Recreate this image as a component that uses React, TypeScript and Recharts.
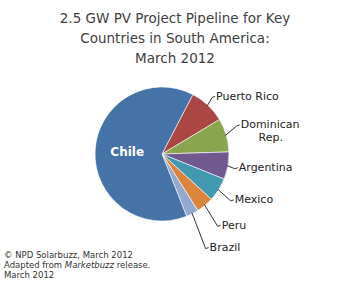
import { Cell, Pie, PieChart } from "recharts";

const countries = ["Puerto Rico", "Dominican Rep.", "Argentina", "Mexico", "Peru", "Brazil", "Chile"];
const shares = [8.8, 8.1, 6.6, 5.7, 4.2, 3.0, 63.6];
const colors = ["#AA4643", "#89A54E", "#71588F", "#4198AF", "#DB843D", "#93A9CF", "#4572A7"];

// distance from centre to start of each outside label
const labelRadius: Record<string, number> = {
  "Puerto Rico": 79,
  "Dominican Rep.": 82,
  Argentina: 78,
  Mexico: 86,
  Peru: 93,
  Brazil: 105,
};

const data = countries.map((name, i) => ({ name, value: shares[i] }));

const RAD = Math.PI / 180;
const polar = (cx: number, cy: number, r: number, a: number) => ({
  x: cx + r * Math.cos(a * RAD),
  y: cy - r * Math.sin(a * RAD),
});

const renderLabel = (props: any) => {
  const { cx, cy, midAngle, outerRadius, name } = props;
  if (name === "Chile") {
    const p = polar(cx, cy, outerRadius * 0.52, midAngle);
    return (
      <text x={p.x} y={p.y} fill="#fff" fontSize={12} fontWeight="bold" textAnchor="middle" dominantBaseline="central">
        Chile
      </text>
    );
  }
  const lr = labelRadius[name] ?? outerRadius + 14;
  const s = polar(cx, cy, outerRadius - 1, midAngle);
  const e = polar(cx, cy, lr, midAngle);
  const lines = name === "Dominican Rep." ? ["Dominican", "Rep."] : [name];
  const ty = lines.length > 1 ? e.y - 6 : e.y;
  return (
    <g>
      <path
        d={`M${s.x},${s.y} L${e.x - 4},${ty + 1} L${e.x - 1},${ty}`}
        stroke="#333"
        strokeWidth={1}
        fill="none"
      />
      <text x={e.x} y={ty} fill="#222" fontSize={11} dominantBaseline="central" textAnchor="start">
        {lines[0]}
      </text>
      {lines[1] && (
        <text x={e.x + 30} y={ty + 13} fill="#222" fontSize={11} dominantBaseline="central" textAnchor="middle">
          {lines[1]}
        </text>
      )}
    </g>
  );
};

const App = () => {
  return (
    <div
      style={{
        position: "absolute",
        left: 0,
        top: 0,
        width: 346,
        height: 285,
        background: "#fff",
        fontFamily: "'DejaVu Sans', sans-serif",
      }}
    >
      <div
        style={{
          position: "absolute",
          left: 0,
          top: 8,
          width: 350,
          textAlign: "center",
          fontSize: 13.5,
          lineHeight: "20px",
          color: "#404040",
        }}
      >
        2.5 GW PV Project Pipeline for Key
        <br />
        Countries in South America:
        <br />
        March 2012
      </div>
      <PieChart width={346} height={285} style={{ position: "absolute", left: 0, top: 0 }}>
        <Pie
          data={data}
          dataKey="value"
          nameKey="name"
          cx={157}
          cy={149}
          outerRadius={67}
          startAngle={62.6}
          endAngle={-297.4}
          stroke="#fff"
          strokeWidth={0.6}
          label={renderLabel}
          labelLine={false}
          isAnimationActive={false}
        >
          {data.map((d, i) => (
            <Cell key={d.name} fill={colors[i]} />
          ))}
        </Pie>
      </PieChart>
      <div
        style={{
          position: "absolute",
          left: 4,
          top: 250,
          fontSize: 8.5,
          lineHeight: "10px",
          color: "#333",
        }}
      >
        © NPD Solarbuzz, March 2012
        <br />
        Adapted from <i>Marketbuzz</i> release.
        <br />
        March 2012
      </div>
    </div>
  );
};

export default App;
